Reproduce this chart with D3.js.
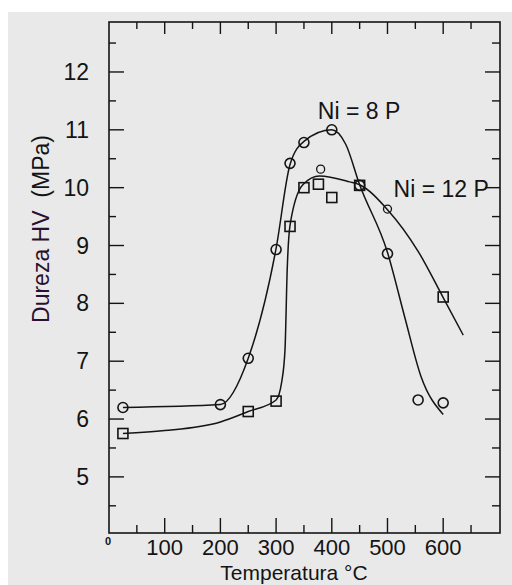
<!DOCTYPE html>
<html><head><meta charset="utf-8">
<script src="https://cdn.jsdelivr.net/npm/d3@7/dist/d3.min.js"></script>
<style>
html,body{margin:0;padding:0;background:#fff;}
svg{display:block;font-family:"Liberation Sans",Arial,sans-serif;}
</style></head>
<body>
<svg id="chart" width="512" height="585"></svg>
<script>
// ---- data ----
const xTicks = [100, 200, 300, 400, 500, 600];
const yTicks = [5, 6, 7, 8, 9, 10, 11, 12];
const seriesNames = ["Ni = 8 P", "Ni = 12 P"];
// measured points, Ni = 8 P (circles)
const temp8 = [25, 200, 250, 300, 325, 350, 400, 450, 500, 555, 600];
const hard8 = [6.2, 6.25, 7.05, 8.93, 10.42, 10.78, 11.0, 10.04, 8.86, 6.33, 6.28];
// measured points, Ni = 12 P (squares)
const temp12 = [25, 250, 300, 325, 350, 376, 400, 450, 600];
const hard12 = [5.75, 6.13, 6.31, 9.33, 10.0, 10.06, 9.83, 10.04, 8.11];
// extra small circles on the Ni = 12 P curve
const tempExtra = [380, 500];
const hardExtra = [10.32, 9.63];
// fitted curves (traced)
const fit8T = [25, 200, 250, 300, 325, 350, 400, 425, 450, 500, 531, 560, 600];
const fit8H = [6.2, 6.25, 7.05, 8.95, 10.4, 10.8, 11.0, 10.75, 10.05, 8.88, 7.76, 6.74, 6.08];
const fit12T = [25, 100, 200, 250, 300, 310, 316, 320, 325, 348, 378, 432, 450, 500, 555, 600, 636];
const fit12H = [5.75, 5.8, 5.95, 6.13, 6.33, 6.64, 7.2, 8.6, 9.35, 10.05, 10.2, 10.1, 10.05, 9.62, 8.9, 8.1, 7.45];

const svg = d3.select("#chart");
// page background
svg.append("rect").attr("x", 8).attr("y", 12).attr("width", 504).attr("height", 573).attr("fill", "#e9e9e9");

const L = 109, R = 500, T = 22, B = 533;
const x = d3.scaleLinear().domain([0, 702]).range([L, R]);
const y = d3.scaleLinear().domain([4.03, 12.864]).range([B, T]);
const ink = "#141414";

// frame
svg.append("rect").attr("x", L).attr("y", T).attr("width", R - L).attr("height", B - T)
  .attr("fill", "none").attr("stroke", ink).attr("stroke-width", 1.6);

// ticks
const xMinor = d3.range(50, 700, 100);
const yMinor = d3.range(4.5, 12.9, 1);
const g = svg.append("g").attr("stroke", ink);
g.selectAll(".xb").data(xTicks).join("line").attr("x1", d => x(d)).attr("x2", d => x(d)).attr("y1", B).attr("y2", B - 15).attr("stroke-width", 1.4);
g.selectAll(".xbm").data(xMinor).join("line").attr("x1", d => x(d)).attr("x2", d => x(d)).attr("y1", B).attr("y2", B - 8).attr("stroke-width", 1.4);
g.selectAll(".xt").data(xTicks).join("line").attr("x1", d => x(d)).attr("x2", d => x(d)).attr("y1", T).attr("y2", T + 12).attr("stroke-width", 1.4);
g.selectAll(".xtm").data(xMinor).join("line").attr("x1", d => x(d)).attr("x2", d => x(d)).attr("y1", T).attr("y2", T + 7).attr("stroke-width", 1.4);
g.selectAll(".yl").data(yTicks).join("line").attr("x1", L).attr("x2", L + 15).attr("y1", d => y(d)).attr("y2", d => y(d)).attr("stroke-width", 1.4);
g.selectAll(".ylm").data(yMinor).join("line").attr("x1", L).attr("x2", L + 7).attr("y1", d => y(d)).attr("y2", d => y(d)).attr("stroke-width", 1.4);
g.selectAll(".yr").data(yTicks).join("line").attr("x1", R).attr("x2", R - 15).attr("y1", d => y(d)).attr("y2", d => y(d)).attr("stroke-width", 1.4);
g.selectAll(".yrm").data(yMinor).join("line").attr("x1", R).attr("x2", R - 8).attr("y1", d => y(d)).attr("y2", d => y(d)).attr("stroke-width", 1.4);

// tick labels
svg.selectAll(".xl").data(xTicks).join("text").attr("x", d => x(d)).attr("y", B + 22)
  .attr("text-anchor", "middle").attr("font-size", 22).attr("fill", ink).text(d => d);
svg.append("text").attr("x", x(0) - 1).attr("y", B + 12).attr("text-anchor", "middle")
  .attr("font-size", 11).attr("font-weight", "bold").attr("fill", ink).text("0");
svg.selectAll(".yll").data(yTicks).join("text").attr("x", 89).attr("y", d => y(d) + 8)
  .attr("text-anchor", "end").attr("font-size", 23).attr("fill", ink).text(d => d);

// axis titles
svg.append("text").attr("x", 294).attr("y", 580).attr("text-anchor", "middle")
  .attr("font-size", 21).attr("fill", ink).text("Temperatura °C");
const yt = svg.append("text").attr("transform", "translate(49,229) rotate(-90)")
  .attr("text-anchor", "middle").attr("font-size", 23).attr("fill", ink);
yt.append("tspan").attr("fill", "#2a1030").text("Dureza HV");
yt.append("tspan").text("\u00a0 (MPa)");

// curves
const line = d3.line().x(d => x(d[0])).y(d => y(d[1])).curve(d3.curveMonotoneX);
const c8 = fit8T.map((t, i) => [t, fit8H[i]]);
const c12 = fit12T.map((t, i) => [t, fit12H[i]]);
[c8, c12].forEach(c => svg.append("path").attr("d", line(c)).attr("fill", "none")
  .attr("stroke", ink).attr("stroke-width", 1.5));

// markers
const p8 = temp8.map((t, i) => [t, hard8[i]]);
const p12 = temp12.map((t, i) => [t, hard12[i]]);
const pe = tempExtra.map((t, i) => [t, hardExtra[i]]);
svg.selectAll(".sq").data(p12).join("rect")
  .attr("x", d => x(d[0]) - 5).attr("y", d => y(d[1]) - 5).attr("width", 10).attr("height", 10)
  .attr("fill", "none").attr("stroke", ink).attr("stroke-width", 1.6);
svg.selectAll(".ci").data(p8).join("circle")
  .attr("cx", d => x(d[0])).attr("cy", d => y(d[1])).attr("r", 5)
  .attr("fill", "none").attr("stroke", ink).attr("stroke-width", 1.6);
svg.selectAll(".ce").data(pe).join("circle")
  .attr("cx", d => x(d[0])).attr("cy", d => y(d[1])).attr("r", 4)
  .attr("fill", "none").attr("stroke", ink).attr("stroke-width", 1.3);

// series labels
svg.append("text").attr("x", x(375)).attr("y", y(11.18)).attr("font-size", 23).attr("fill", ink).text(seriesNames[0]);
svg.append("text").attr("x", x(511)).attr("y", y(9.84)).attr("font-size", 23).attr("fill", ink).text(seriesNames[1]);
</script>
</body></html>
